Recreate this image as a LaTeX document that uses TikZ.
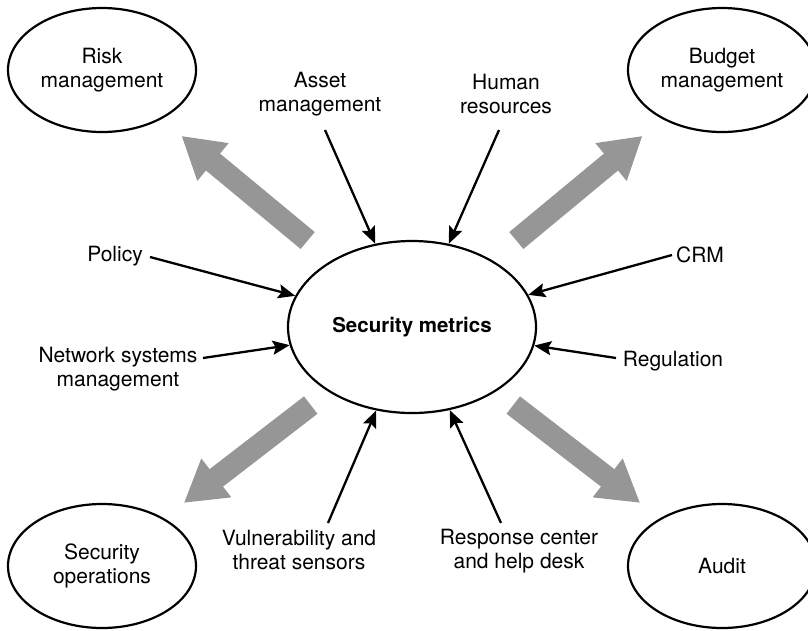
\documentclass[tikz,border=0pt]{standalone}
\usepackage{fontspec}
\setmainfont{TeX Gyre Heros}
\usetikzlibrary{arrows.meta,positioning,shapes.geometric}
\usepackage{xcolor}
\definecolor{FlowGray}{RGB}{150,150,150}

\begin{document}
\begin{tikzpicture}[x=1pt,y=-1pt,font=\fontsize{21}{23.5}\selectfont,hub/.style={ellipse,draw,line width=2.2pt,minimum width=248pt,minimum height=172pt,inner sep=0pt,font=\fontsize{20.5}{23.5}\selectfont\bfseries},goal/.style={ellipse,draw,line width=2.2pt,minimum width=188pt,minimum height=124pt,inner sep=0pt,align=center},src/.style={align=center,inner sep=0pt},feed/.style={-{Stealth[length=17pt,width=14pt,inset=3pt]},line width=2.3pt},fat/.style={-{Triangle[length=41pt,width=46pt]},line width=22pt,draw=FlowGray}]
\path[use as bounding box,fill=white](0,0)rectangle(808,630);
\node[hub](metrics)at(412,327){Security metrics};
\node[goal](risk)at(102,70){Risk\\management};
\node[goal](budget)at(722,70){Budget\\management};
\node[goal](secops)at(102,566){Security\\operations};
\node[goal](audit)at(722,566){Audit};
\node[src](asset)at(320,94){Asset\\management};
\node[src](human)at(506,94){Human\\resources};
\node[src](policy)at(115,256){Policy};
\node[src](crm)at(700,255){CRM};
\node[src](network)at(118,369){Network systems\\management};
\node[src](regulation)at(673,361){Regulation};
\node[src](vuln)at(299,550){Vulnerability and\\threat sensors};
\node[src](response)at(519,551){Response center\\and help desk};
% arrow tails next to the labels
\coordinate(asset-t)at(325,130);
\coordinate(human-t)at(499,130);
\coordinate(policy-t)at(150,257);
\coordinate(crm-t)at(672,255);
\coordinate(network-t)at(203,358);
\coordinate(regulation-t)at(616,358);
\coordinate(vuln-t)at(328,523);
\coordinate(response-t)at(501,523);
\foreach \g/\s/\e in {risk/31/26,budget/31/26,secops/22/25,audit/22/25}{\draw[fat,shorten <=\s pt,shorten >=\e pt](metrics)--(\g);}
\foreach \t in {asset,human,policy,crm,network,regulation,vuln,response}{\draw[feed](\t-t)--(metrics);}
\end{tikzpicture}
\end{document}
